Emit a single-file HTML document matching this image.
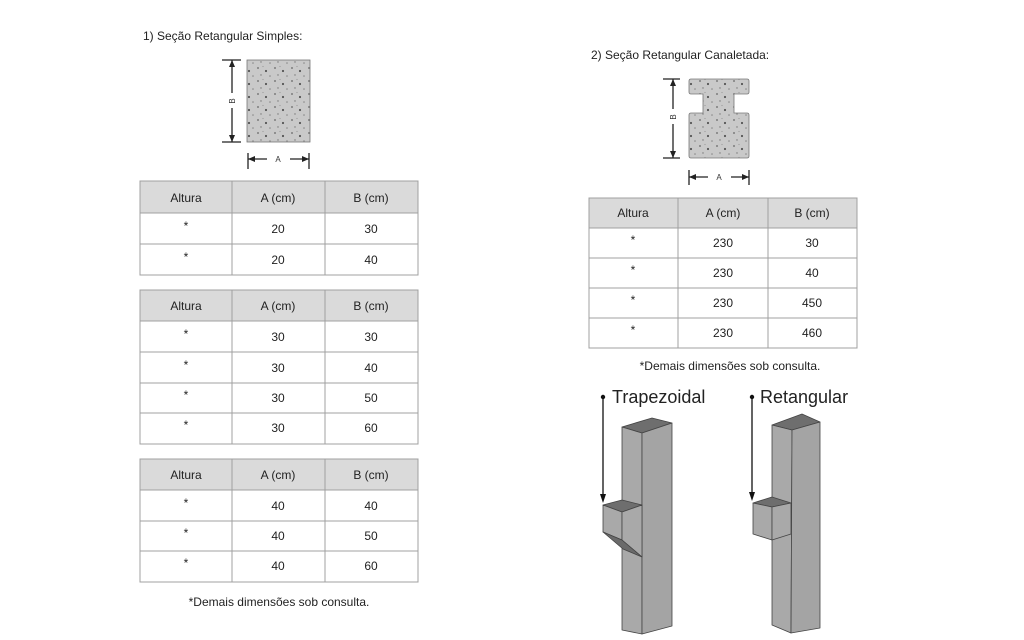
<!DOCTYPE html>
<html><head><meta charset="utf-8"><style>
html,body{margin:0;padding:0;background:#fff;}
svg{display:block;font-family:"Liberation Sans",Arial,sans-serif;}
</style></head><body>
<svg width="1024" height="640" viewBox="0 0 1024 640" xmlns="http://www.w3.org/2000/svg">
<defs>
<pattern id="sp" width="17" height="13" patternUnits="userSpaceOnUse">
<rect width="17" height="13" fill="#c9c9c9"/>
<circle cx="3" cy="3" r="0.9" fill="#666"/>
<circle cx="11" cy="6" r="1.1" fill="#555"/>
<circle cx="6" cy="10" r="0.7" fill="#777"/>
<circle cx="15" cy="11" r="0.8" fill="#888"/>
<circle cx="8" cy="1.5" r="0.6" fill="#999"/>
</pattern>
</defs>
<g font-size="12" fill="#222">
<text x="143" y="40">1) Seção Retangular Simples:</text>
<text x="591" y="59">2) Seção Retangular Canaletada:</text>
</g>
<!-- simple section -->
<rect x="247" y="60" width="63" height="82" fill="url(#sp)" stroke="#777" stroke-width="0.8"/>
<g stroke="#222" stroke-width="1.3" fill="none">
<line x1="222" y1="60" x2="241" y2="60"/><line x1="222" y1="142" x2="241" y2="142"/>
<line x1="232" y1="60" x2="232" y2="93"/><line x1="232" y1="108" x2="232" y2="142"/>
<line x1="248" y1="153" x2="248" y2="169"/><line x1="309" y1="153" x2="309" y2="169"/>
<line x1="248" y1="159" x2="267" y2="159"/><line x1="290" y1="159" x2="309" y2="159"/>
<line x1="673" y1="79" x2="673" y2="109"/><line x1="673" y1="124" x2="673" y2="158"/>
<line x1="663" y1="79" x2="680" y2="79"/><line x1="663" y1="158" x2="680" y2="158"/>
<line x1="689" y1="170" x2="689" y2="185"/><line x1="749" y1="170" x2="749" y2="185"/>
<line x1="689" y1="177" x2="708" y2="177"/><line x1="731" y1="177" x2="749" y2="177"/>
</g>
<g fill="#222">
<path d="M232 60 l-3 7 h6z M232 142 l-3 -7 h6z M248 159 l7 -3 v6z M309 159 l-7 -3 v6z"/>
<path d="M673 79 l-3 7 h6z M673 158 l-3 -7 h6z M689 177 l7 -3 v6z M749 177 l-7 -3 v6z"/>
</g>
<g font-size="8" fill="#333" text-anchor="middle">
<text x="278" y="162">A</text>
<text transform="translate(235,101) rotate(-90)">B</text>
<text x="719" y="180">A</text>
<text transform="translate(676,117) rotate(-90)">B</text>
</g>
<!-- canaleta -->
<path d="M691 79 H747 Q749 79 749 81 V92 Q749 94 747 94 H734 V113 H747 Q749 113 749 115 V156 Q749 158 747 158 H691 Q689 158 689 156 V115 Q689 113 691 113 H703 V94 H691 Q689 94 689 92 V81 Q689 79 691 79 Z" fill="url(#sp)" stroke="#777" stroke-width="0.8"/>
<!-- tables -->
<g stroke="#a0a0a0" stroke-width="1">
<rect x="140" y="181" width="278" height="32" fill="#dadada"/>
<rect x="140" y="213" width="278" height="62" fill="#fff"/>
<line x1="140" y1="244" x2="418" y2="244"/>
<line x1="232" y1="181" x2="232" y2="275"/><line x1="325" y1="181" x2="325" y2="275"/>

<rect x="140" y="290" width="278" height="31" fill="#dadada"/>
<rect x="140" y="321" width="278" height="123" fill="#fff"/>
<line x1="140" y1="352" x2="418" y2="352"/><line x1="140" y1="383" x2="418" y2="383"/><line x1="140" y1="413" x2="418" y2="413"/>
<line x1="232" y1="290" x2="232" y2="444"/><line x1="325" y1="290" x2="325" y2="444"/>

<rect x="140" y="459" width="278" height="31" fill="#dadada"/>
<rect x="140" y="490" width="278" height="92" fill="#fff"/>
<line x1="140" y1="521" x2="418" y2="521"/><line x1="140" y1="551" x2="418" y2="551"/>
<line x1="232" y1="459" x2="232" y2="582"/><line x1="325" y1="459" x2="325" y2="582"/>

<rect x="589" y="198" width="268" height="30" fill="#dadada"/>
<rect x="589" y="228" width="268" height="120" fill="#fff"/>
<line x1="589" y1="258" x2="857" y2="258"/><line x1="589" y1="288" x2="857" y2="288"/><line x1="589" y1="318" x2="857" y2="318"/>
<line x1="678" y1="198" x2="678" y2="348"/><line x1="768" y1="198" x2="768" y2="348"/>
</g>
<g font-size="12" fill="#222" text-anchor="middle">
<text x="186" y="202">Altura</text><text x="278" y="202">A (cm)</text><text x="371" y="202">B (cm)</text>
<text x="186" y="230">*</text><text x="278" y="233">20</text><text x="371" y="233">30</text>
<text x="186" y="261">*</text><text x="278" y="264">20</text><text x="371" y="264">40</text>

<text x="186" y="310">Altura</text><text x="278" y="310">A (cm)</text><text x="371" y="310">B (cm)</text>
<text x="186" y="338">*</text><text x="278" y="341">30</text><text x="371" y="341">30</text>
<text x="186" y="369">*</text><text x="278" y="372">30</text><text x="371" y="372">40</text>
<text x="186" y="399">*</text><text x="278" y="402">30</text><text x="371" y="402">50</text>
<text x="186" y="429">*</text><text x="278" y="432">30</text><text x="371" y="432">60</text>

<text x="186" y="479">Altura</text><text x="278" y="479">A (cm)</text><text x="371" y="479">B (cm)</text>
<text x="186" y="507">*</text><text x="278" y="510">40</text><text x="371" y="510">40</text>
<text x="186" y="537">*</text><text x="278" y="540">40</text><text x="371" y="540">50</text>
<text x="186" y="567">*</text><text x="278" y="570">40</text><text x="371" y="570">60</text>

<text x="279" y="606">*Demais dimensões sob consulta.</text>

<text x="633" y="217">Altura</text><text x="723" y="217">A (cm)</text><text x="812" y="217">B (cm)</text>
<text x="633" y="244">*</text><text x="723" y="247">230</text><text x="812" y="247">30</text>
<text x="633" y="274">*</text><text x="723" y="277">230</text><text x="812" y="277">40</text>
<text x="633" y="304">*</text><text x="723" y="307">230</text><text x="812" y="307">450</text>
<text x="633" y="334">*</text><text x="723" y="337">230</text><text x="812" y="337">460</text>
<text x="730" y="370">*Demais dimensões sob consulta.</text>
</g>
<!-- pillars -->
<g font-size="18" fill="#222">
<text x="612" y="403">Trapezoidal</text>
<text x="760" y="403">Retangular</text>
</g>
<g stroke="#444" stroke-width="0.8" stroke-linejoin="round">
<!-- trapezoidal -->
<polygon points="622,427 652,418 672,423 642,433" fill="#6e6e6e"/>
<polygon points="622,427 642,433 642,634 622,630" fill="#a9a9a9"/>
<polygon points="642,433 672,423 672,626 642,634" fill="#a4a4a4"/>
<polygon points="603,505 622,500 642,505 622,512" fill="#6e6e6e"/>
<polygon points="603,505 622,512 622,540 603,532" fill="#a9a9a9"/>
<polygon points="622,512 642,505 642,557 622,540" fill="#a9a9a9"/>
<polygon points="603,532 622,540 642,557 623,549" fill="#6a6a6a"/>
<!-- rectangular -->
<polygon points="772,425 802,414 820,422 792,430" fill="#6e6e6e"/>
<polygon points="772,425 792,430 791,633 772,625" fill="#a9a9a9"/>
<polygon points="792,430 820,422 820,628 791,633" fill="#a4a4a4"/>
<polygon points="753,503 772,497 791,503 772,507" fill="#6e6e6e"/>
<polygon points="753,503 772,507 772,540 753,534" fill="#a9a9a9"/>
<polygon points="772,507 791,503 791,534 772,540" fill="#a9a9a9"/>
</g>
<g stroke="#111" stroke-width="1.3">
<line x1="603" y1="397" x2="603" y2="496"/>
<line x1="752" y1="397" x2="752" y2="493"/>
</g>
<g fill="#111">
<circle cx="603" cy="397" r="2.2"/><circle cx="752" cy="397" r="2.2"/>
<path d="M600 494 L606 494 L603 503Z M749 492 L755 492 L752 501Z"/>
</g>
</svg>
</body></html>
